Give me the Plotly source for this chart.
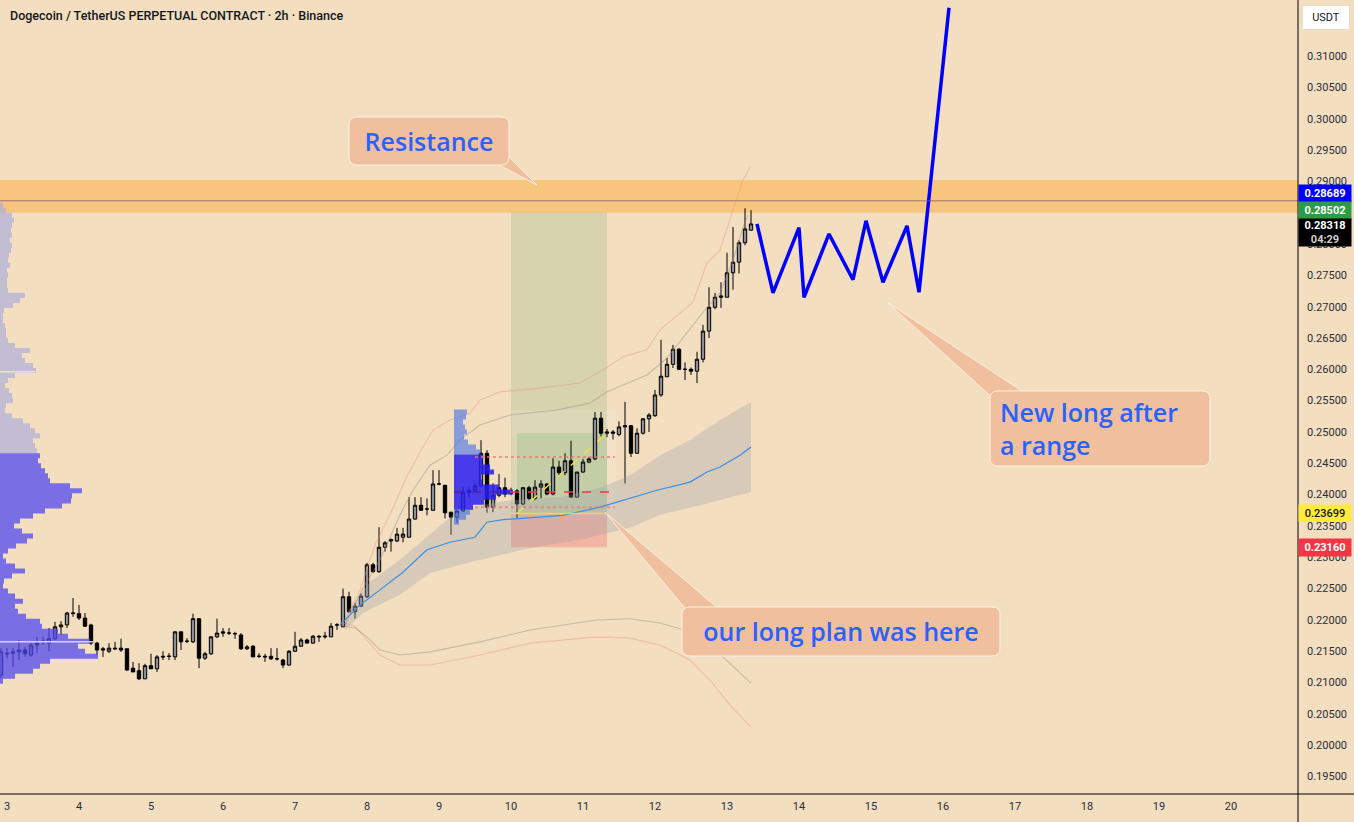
import pandas as pd
import plotly.graph_objects as go

BG = "#f3dec0"

# ---------------- candles (2h) ----------------
T_FIRST = "2025-09-02 22:00"
OPEN = [0.2112,0.2147,0.2147,0.2149,0.2152,0.2144,0.2160,0.2165,0.2163,0.2170,
        0.2189,0.2192,0.2210,0.2210,0.2203,0.2192,0.2163,0.2154,0.2150,0.2155,
        0.2155,0.2154,0.2123,0.2119,0.2106,0.2127,0.2122,0.2142,0.2142,0.2141,
        0.2181,0.2166,0.2165,0.2202,0.2139,0.2146,0.2173,0.2181,0.2179,0.2178,
        0.2176,0.2154,0.2158,0.2142,0.2142,0.2142,0.2138,0.2136,0.2128,0.2150,
        0.2158,0.2168,0.2163,0.2174,0.2173,0.2173,0.2192,0.2189,0.2237,0.2213,
        0.2222,0.2237,0.2288,0.2277,0.2316,0.2326,0.2326,0.2332,0.2332,0.2361,
        0.2383,0.2377,0.2375,0.2417,0.2415,0.2372,0.2364,0.2374,0.2403,0.2407,
        0.2414,0.2466,0.2380,0.2399,0.2411,0.2403,0.2406,0.2385,0.2411,0.2394,
        0.2412,0.2417,0.2401,0.2444,0.2435,0.2454,0.2396,0.2436,0.2452,0.2457,
        0.2522,0.2498,0.2500,0.2496,0.2508,0.2510,0.2466,0.2498,0.2521,0.2526,
        0.2559,0.2588,0.2608,0.2632,0.2600,0.2600,0.2597,0.2616,0.2661,0.2699,
        0.2715,0.2715,0.2754,0.2771,0.2802,0.2822]
HIGH = [0.2155,0.2155,0.2155,0.2168,0.2157,0.2163,0.2173,0.2173,0.2187,0.2197,
        0.2198,0.2213,0.2235,0.2224,0.2211,0.2194,0.2165,0.2157,0.2163,0.2165,
        0.2170,0.2154,0.2133,0.2131,0.2130,0.2146,0.2144,0.2150,0.2147,0.2182,
        0.2181,0.2171,0.2210,0.2202,0.2149,0.2174,0.2202,0.2187,0.2187,0.2181,
        0.2179,0.2160,0.2160,0.2147,0.2146,0.2155,0.2155,0.2138,0.2152,0.2181,
        0.2171,0.2170,0.2176,0.2176,0.2181,0.2195,0.2195,0.2250,0.2245,0.2227,
        0.2242,0.2291,0.2291,0.2348,0.2326,0.2330,0.2347,0.2347,0.2396,0.2396,
        0.2396,0.2394,0.2439,0.2439,0.2415,0.2372,0.2375,0.2412,0.2412,0.2418,
        0.2487,0.2471,0.2418,0.2433,0.2427,0.2411,0.2409,0.2412,0.2414,0.2423,
        0.2423,0.2418,0.2458,0.2454,0.2466,0.2486,0.2436,0.2457,0.2460,0.2532,
        0.2532,0.2505,0.2503,0.2517,0.2548,0.2511,0.2506,0.2522,0.2530,0.2567,
        0.2647,0.2618,0.2639,0.2634,0.2611,0.2603,0.2628,0.2671,0.2731,0.2722,
        0.2739,0.2786,0.2827,0.2806,0.2857,0.2854]
LOW = [0.2107,0.2139,0.2125,0.2136,0.2141,0.2141,0.2147,0.2160,0.2150,0.2168,
       0.2176,0.2187,0.2205,0.2200,0.2189,0.2160,0.2144,0.2141,0.2147,0.2152,
       0.2149,0.2119,0.2117,0.2104,0.2106,0.2122,0.2117,0.2136,0.2136,0.2136,
       0.2152,0.2163,0.2163,0.2123,0.2136,0.2144,0.2171,0.2173,0.2176,0.2170,
       0.2152,0.2152,0.2141,0.2139,0.2133,0.2136,0.2135,0.2123,0.2127,0.2149,
       0.2157,0.2163,0.2162,0.2165,0.2170,0.2173,0.2184,0.2189,0.2211,0.2202,
       0.2221,0.2235,0.2275,0.2275,0.2309,0.2309,0.2324,0.2324,0.2332,0.2360,
       0.2374,0.2367,0.2374,0.2415,0.2362,0.2336,0.2355,0.2372,0.2396,0.2404,
       0.2412,0.2371,0.2372,0.2396,0.2396,0.2399,0.2362,0.2383,0.2391,0.2391,
       0.2394,0.2399,0.2399,0.2431,0.2431,0.2396,0.2396,0.2435,0.2450,0.2455,
       0.2493,0.2492,0.2488,0.2493,0.2418,0.2460,0.2466,0.2496,0.2500,0.2524,
       0.2556,0.2588,0.2602,0.2599,0.2583,0.2591,0.2578,0.2611,0.2650,0.2696,
       0.2698,0.2715,0.2727,0.2753,0.2798,0.2821]
CLOSE = [0.2149,0.2146,0.2149,0.2152,0.2146,0.2160,0.2163,0.2166,0.2170,0.2189,
         0.2192,0.2211,0.2211,0.2203,0.2190,0.2163,0.2152,0.2152,0.2155,0.2154,
         0.2152,0.2120,0.2117,0.2106,0.2127,0.2122,0.2141,0.2141,0.2142,0.2181,
         0.2165,0.2166,0.2202,0.2139,0.2146,0.2173,0.2179,0.2179,0.2179,0.2178,
         0.2154,0.2157,0.2141,0.2142,0.2141,0.2138,0.2138,0.2128,0.2150,0.2158,
         0.2168,0.2163,0.2174,0.2173,0.2174,0.2190,0.2192,0.2237,0.2213,0.2222,
         0.2238,0.2288,0.2277,0.2316,0.2323,0.2328,0.2337,0.2337,0.2361,0.2383,
         0.2375,0.2377,0.2417,0.2417,0.2371,0.2364,0.2374,0.2403,0.2407,0.2414,
         0.2466,0.2380,0.2399,0.2411,0.2401,0.2403,0.2385,0.2411,0.2394,0.2412,
         0.2417,0.2401,0.2444,0.2435,0.2454,0.2396,0.2436,0.2452,0.2457,0.2522,
         0.2498,0.2500,0.2498,0.2508,0.2510,0.2466,0.2498,0.2521,0.2527,0.2559,
         0.2589,0.2608,0.2632,0.2600,0.2600,0.2597,0.2616,0.2661,0.2699,0.2715,
         0.2717,0.2754,0.2771,0.2802,0.2824,0.2832]

# ---------------- indicator lines ----------------
MID_T = ["2025-09-07 15:00","2025-09-07 21:40","2025-09-08 04:20","2025-09-08 11:40","2025-09-08 20:00",
         "2025-09-09 03:40","2025-09-09 12:00","2025-09-09 16:00","2025-09-09 21:20","2025-09-10 17:20",
         "2025-09-11 05:40","2025-09-11 15:40","2025-09-12 00:40","2025-09-12 11:40","2025-09-12 17:20",
         "2025-09-12 21:40","2025-09-13 04:20","2025-09-13 08:00"]
MID_P = [0.2192,0.2224,0.2248,0.2275,0.2312,0.2324,0.2332,0.2356,0.2360,0.2367,
         0.2380,0.2394,0.2407,0.2420,0.2436,0.2444,0.2463,0.2476]

BAND_UP_T = ["2025-09-07 16:40","2025-09-08 01:00","2025-09-08 11:00","2025-09-08 21:00","2025-09-09 04:40",
             "2025-09-09 13:40","2025-09-09 23:40","2025-09-10 16:20","2025-09-11 05:40","2025-09-11 15:40",
             "2025-09-12 01:40","2025-09-12 11:40","2025-09-12 21:40","2025-09-13 08:00"]
BAND_UP_P = [0.2208,0.2261,0.2296,0.2336,0.2368,0.2383,0.2391,0.2396,0.2411,0.2431,
             0.2463,0.2487,0.2519,0.2548]
BAND_LO_T = ["2025-09-07 16:40","2025-09-07 22:40","2025-09-08 11:00","2025-09-08 21:00","2025-09-09 07:00",
             "2025-09-09 17:00","2025-09-10 06:20","2025-09-10 23:00","2025-09-11 15:40","2025-09-12 01:40",
             "2025-09-12 15:00","2025-09-13 08:00"]
BAND_LO_P = [0.2184,0.2211,0.2240,0.2275,0.2288,0.2300,0.2315,0.2328,0.2347,0.2368,0.2383,0.2404]

SALMON_UP_T = ["2025-09-07 16:40","2025-09-07 21:40","2025-09-08 02:40","2025-09-08 07:40","2025-09-08 12:40",
               "2025-09-08 17:40","2025-09-08 22:00","2025-09-09 03:40","2025-09-09 10:20","2025-09-09 13:40",
               "2025-09-09 20:20","2025-09-10 09:40","2025-09-10 23:00","2025-09-11 08:00","2025-09-11 13:20",
               "2025-09-11 21:20","2025-09-12 01:40","2025-09-12 08:20","2025-09-12 12:40","2025-09-12 17:20",
               "2025-09-12 21:40","2025-09-13 02:00","2025-09-13 05:20","2025-09-13 07:40"]
SALMON_UP_P = [0.2197,0.2248,0.2320,0.2368,0.2423,0.2468,0.2503,0.2519,0.2530,0.2551,
               0.2564,0.2570,0.2578,0.2603,0.2620,0.2631,0.2663,0.2690,0.2707,0.2770,
               0.2790,0.2854,0.2902,0.2923]
GREY_UP_T = ["2025-09-07 16:40","2025-09-07 22:20","2025-09-08 04:20","2025-09-08 11:00","2025-09-08 15:20",
             "2025-09-08 21:00","2025-09-09 02:40","2025-09-09 07:00","2025-09-09 13:40","2025-09-09 23:40",
             "2025-09-10 15:20","2025-09-11 02:20","2025-09-11 08:00","2025-09-11 13:20","2025-09-11 21:20",
             "2025-09-12 04:00","2025-09-12 10:40","2025-09-12 17:20","2025-09-12 21:40","2025-09-13 02:00",
             "2025-09-13 05:20","2025-09-13 07:00"]
GREY_UP_P = [0.2192,0.2248,0.2296,0.2368,0.2407,0.2447,0.2463,0.2487,0.2511,0.2527,
             0.2535,0.2546,0.2564,0.2575,0.2591,0.2618,0.2658,0.2699,0.2722,0.2774,
             0.2827,0.2846]
GREY_LO_T = ["2025-09-07 15:00","2025-09-07 20:00","2025-09-08 00:00","2025-09-08 04:20","2025-09-08 11:00",
             "2025-09-08 21:00","2025-09-09 13:40","2025-09-10 06:20","2025-09-11 04:40","2025-09-11 15:40",
             "2025-09-12 01:40","2025-09-12 11:40","2025-09-12 18:20","2025-09-13 01:00","2025-09-13 08:00"]
GREY_LO_P = [0.2192,0.2187,0.2173,0.2152,0.2144,0.2149,0.2165,0.2184,0.2200,0.2202,
             0.2195,0.2181,0.2160,0.2131,0.2099]
SALMON_LO_T = ["2025-09-07 15:00","2025-09-07 20:00","2025-09-08 04:20","2025-09-08 11:00","2025-09-08 21:00",
               "2025-09-09 13:40","2025-09-10 06:20","2025-09-11 04:40","2025-09-11 15:40","2025-09-12 01:40",
               "2025-09-12 11:40","2025-09-12 18:20","2025-09-13 01:00","2025-09-13 08:00"]
SALMON_LO_P = [0.2197,0.2190,0.2144,0.2128,0.2128,0.2144,0.2163,0.2173,0.2171,0.2160,
               0.2136,0.2104,0.2064,0.2029]

# ---------------- volume profiles ----------------
VOL_MIN = 20  # minutes of chart width per volume unit
LP_BASE = "2025-09-02 21:40"
LP_TOP = 0.2862
LP_STEP = 0.0008
LP_OUT_VOL = [3,6,12,14,12,11,12,10,12,11,9,8,10,7,8,7,7,8,25,20,13,4,3,3,5,6,6,8,15,30,
              22,25,33,36,15,8,5,9,12,13,6,5,12,23,30,35,40,33,35,37]
LP_VA_VOL = [40,38,41,45,48,50,70,82,72,71,62,45,33,20,14,22,33,27,16,8,3,6,15,25,12,4,3,8,15,23,
             15,18,26,40,42,58,68,90,78,85,98,50,40,33,15,3]

FP_BASE = "2025-09-09 05:00"
FP_TOP = 0.2532
FP_STEP = 0.0008
FP_VOL = [13,12,9,11,13,10,14,22,26,29,28,36,40,27,28,45,59,42,30,19,16,12,5]
FP_VA = (9, 20)

# ---------------- drawings ----------------
RES_LOW, RES_HIGH = 0.2850, 0.2902
HLINE = 0.28689
POS_START, POS_END = "2025-09-10 00:00", "2025-09-11 08:00"
TARGET, ENTRY, STOP = 0.28502, 0.23699, 0.23160
POS2_START, POS2_TOP = "2025-09-10 02:00", 0.2498
LAST_PRICE = 0.28318

ZZ_T = ["2025-09-13 10:00","2025-09-13 15:20","2025-09-14 00:00","2025-09-14 01:40","2025-09-14 10:00",
        "2025-09-14 18:00","2025-09-14 22:20","2025-09-15 04:00","2025-09-15 12:00","2025-09-15 16:00",
        "2025-09-16 02:00"]
ZZ_P = [0.2832,0.2722,0.2826,0.2715,0.2816,0.2743,0.2837,0.2739,0.2829,0.2723,0.3177]

# callouts: text, anchor time, anchor price, box size (px), text alignment
CALLOUTS = [
    ("Resistance", "2025-09-08 20:40", 0.29644, 160, 48, "center"),
    ("New long after<br>a range", "2025-09-18 04:20", 0.25056, 220, 75, "left"),
    ("our long plan was here", "2025-09-14 14:00", 0.21816, 318, 49, "center"),
]
TAILS = [(["2025-09-09 19:20", "2025-09-09 22:40", "2025-09-10 08:40"], [0.2928, 0.2942, 0.2894]),
         (["2025-09-16 17:20", "2025-09-17 03:20", "2025-09-15 05:40"], [0.2551, 0.2562, 0.2706]),
         (["2025-09-12 11:00", "2025-09-12 22:20", "2025-09-11 07:20"], [0.2213, 0.2213, 0.2372])]

DAY_TICKS = ["2025-09-%02d" % d for d in range(3, 21)]
DAY_LABELS = ["3","4","5","6","7","8","9","10","11","12","13","14","15","16","17","18","19","20"]
Y_TICKS = [0.195,0.200,0.205,0.210,0.215,0.220,0.225,0.230,0.235,0.240,0.245,0.250,
           0.255,0.260,0.265,0.270,0.275,0.280,0.285,0.290,0.295,0.300,0.305,0.310]
Y_LABELS = ["0.19500","0.20000","0.20500","0.21000","0.21500","0.22000","0.22500","0.23000",
            "0.23500","0.24000","0.24500","0.25000","0.25500","0.26000","0.26500","0.27000",
            "0.27500","0.28000","0.28500","0.29000","0.29500","0.30000","0.30500","0.31000"]

X_RANGE = ["2025-09-02 21:40", "2025-09-20 22:20"]
Y_RANGE = [0.19222, 0.31894]

times = pd.date_range(T_FIRST, periods=len(OPEN), freq="2h")


def profile_poly(base, top, step, vols, start=0, stop=None):
    base = pd.Timestamp(base)
    stop = len(vols) if stop is None else stop
    xs, ys = [base], [top - start * step + step / 2]
    for i in range(start, stop):
        c = top - i * step
        xr = base + pd.Timedelta(minutes=vols[i] * VOL_MIN)
        xs += [xr, xr]
        ys += [c + step / 2, c - step / 2]
    xs.append(base)
    ys.append(top - (stop - 1) * step - step / 2)
    return xs, ys


def rounded_rect(w, h, r):
    a, b = w / 2, h / 2
    return (f"M {-a + r},{-b} L {a - r},{-b} Q {a},{-b} {a},{-b + r} L {a},{b - r} "
            f"Q {a},{b} {a - r},{b} L {-a + r},{b} Q {-a},{b} {-a},{b - r} "
            f"L {-a},{-b + r} Q {-a},{-b} {-a + r},{-b} Z")


fig = go.Figure()

# grey band
fig.add_trace(go.Scatter(x=BAND_UP_T + BAND_LO_T[::-1], y=BAND_UP_P + BAND_LO_P[::-1],
                         fill="toself", fillcolor="rgba(160,160,170,0.33)", line=dict(width=0),
                         mode="lines", hoverinfo="skip"))
for tx, py, col in [(SALMON_UP_T, SALMON_UP_P, "rgba(236,150,130,0.45)"),
                    (SALMON_LO_T, SALMON_LO_P, "rgba(236,150,130,0.45)"),
                    (GREY_UP_T, GREY_UP_P, "rgba(150,140,130,0.45)"),
                    (GREY_LO_T, GREY_LO_P, "rgba(150,140,130,0.45)")]:
    fig.add_trace(go.Scatter(x=tx, y=py, mode="lines", line=dict(color=col, width=1.1),
                             hoverinfo="skip"))
fig.add_trace(go.Scatter(x=MID_T, y=MID_P, mode="lines", line=dict(color="#3a8ee6", width=1.2),
                         hoverinfo="skip"))

# candles
fig.add_trace(go.Candlestick(x=times, open=OPEN, high=HIGH, low=LOW, close=CLOSE,
                             increasing=dict(fillcolor="#8c8e97", line=dict(color="#000000", width=1)),
                             decreasing=dict(fillcolor="#000000", line=dict(color="#000000", width=1)),
                             whiskerwidth=0, hoverinfo="skip"))

# left session volume profile
n_out = len(LP_OUT_VOL)
xs, ys = profile_poly(LP_BASE, LP_TOP, LP_STEP, LP_OUT_VOL)
fig.add_trace(go.Scatter(x=xs, y=ys, fill="toself", fillcolor="rgba(165,170,222,0.62)",
                         line=dict(width=0), mode="lines", hoverinfo="skip"))
xs, ys = profile_poly(LP_BASE, LP_TOP - n_out * LP_STEP, LP_STEP, LP_VA_VOL)
fig.add_trace(go.Scatter(x=xs, y=ys, fill="toself", fillcolor="rgba(80,70,240,0.74)",
                         line=dict(width=0), mode="lines", hoverinfo="skip"))

# fixed range profile
for a, b, col in [(0, FP_VA[0], "rgba(50,100,240,0.55)"),
                  (FP_VA[0], FP_VA[1], "rgba(40,30,240,0.85)"),
                  (FP_VA[1], len(FP_VOL), "rgba(50,100,240,0.55)")]:
    xs, ys = profile_poly(FP_BASE, FP_TOP, FP_STEP, FP_VOL, a, b)
    fig.add_trace(go.Scatter(x=xs, y=ys, fill="toself", fillcolor=col, line=dict(width=0),
                             mode="lines", hoverinfo="skip"))

# callout tails
for tx, py in TAILS:
    fig.add_trace(go.Scatter(x=tx + tx[:1], y=py + py[:1], fill="toself", fillcolor="#f0bf9d",
                             line=dict(color="rgba(255,245,235,0.8)", width=1), mode="lines",
                             hoverinfo="skip"))

# projection zigzag
fig.add_trace(go.Scatter(x=ZZ_T, y=ZZ_P, mode="lines", line=dict(color="#0000ff", width=3.5),
                         hoverinfo="skip"))

shapes = [
    dict(type="rect", xref="paper", x0=0, x1=1, yref="y", y0=RES_LOW, y1=RES_HIGH,
         fillcolor="rgba(255,152,0,0.35)", line=dict(width=0), layer="below"),
    dict(type="rect", xref="x", x0=POS_START, x1=POS_END, yref="y", y0=ENTRY, y1=TARGET,
         fillcolor="rgba(100,170,100,0.2)", line=dict(width=0), layer="below"),
    dict(type="rect", xref="x", x0=POS_START, x1=POS_END, yref="y", y0=STOP, y1=ENTRY,
         fillcolor="rgba(242,54,69,0.25)", line=dict(width=0), layer="below"),
    dict(type="rect", xref="x", x0="2025-09-10 00:20", x1="2025-09-11 11:00", yref="y", y0=ENTRY, y1=0.2535,
         fillcolor="rgba(255,255,255,0.12)", line=dict(width=0), layer="below"),
    dict(type="rect", xref="x", x0=POS2_START, x1=POS_END, yref="y", y0=ENTRY, y1=POS2_TOP,
         fillcolor="rgba(100,170,100,0.2)", line=dict(width=0), layer="below"),
    dict(type="line", xref="paper", x0=0, x1=1, yref="y", y0=HLINE, y1=HLINE,
         line=dict(color="rgba(120,85,110,0.75)", width=1)),
    dict(type="line", xref="x", x0=POS_START, x1=POS_END, yref="y", y0=ENTRY, y1=ENTRY,
         line=dict(color="#f2d94a", width=1.5)),
    dict(type="line", xref="x", x0=POS2_START, x1=POS_END, yref="y", y0=ENTRY, y1=POS2_TOP,
         line=dict(color="#f0e040", width=1.5, dash="dash")),
    dict(type="line", xref="x", x0="2025-09-09 12:00", x1="2025-09-11 10:40", yref="y", y0=0.2460, y1=0.2460,
         line=dict(color="rgba(235,120,110,0.7)", width=2, dash="dot")),
    dict(type="line", xref="x", x0="2025-09-09 12:00", x1="2025-09-11 10:40", yref="y", y0=0.2380, y1=0.2380,
         line=dict(color="rgba(235,120,110,0.7)", width=2, dash="dot")),
    dict(type="line", xref="x", x0="2025-09-09 23:40", x1="2025-09-11 10:40", yref="y", y0=0.2404, y1=0.2404,
         line=dict(color="#f23645", width=1.5, dash="dash")),
    dict(type="line", xref="x", x0=FP_BASE, x1="2025-09-09 23:40", yref="y", y0=0.2404, y1=0.2404,
         line=dict(color="rgba(90,30,140,0.9)", width=1.5, dash="dash")),
    dict(type="line", xref="x", x0=LP_BASE, x1="2025-09-04 04:40", yref="y", y0=0.2165, y1=0.2165,
         line=dict(color="rgba(225,225,240,0.9)", width=1.5)),
    dict(type="line", xref="x", x0=LP_BASE, x1="2025-09-03 09:20", yref="y", y0=0.2596, y1=0.2596,
         line=dict(color="rgba(240,230,215,0.9)", width=1.5)),
    # axis frame lines
    dict(type="line", xref="paper", x0=0, x1=1354 / 1298, yref="paper", y0=0, y1=0,
         line=dict(color="#000000", width=1)),
    dict(type="line", xref="paper", x0=1, x1=1, yref="paper", y0=-28 / 794, y1=1,
         line=dict(color="#000000", width=1)),
]

CALL_FONT = dict(family="Open Sans", size=25, color="#2962ff", weight=600)
annotations = [
    dict(text="Dogecoin / TetherUS PERPETUAL CONTRACT · 2h · Binance", xref="paper", yref="paper",
         x=8 / 1298, y=1 - 16 / 794, xanchor="left", yanchor="middle", showarrow=False,
         font=dict(family="Roboto", size=12.5, color="#131722", weight=500)),
]
for text, tx, py, w, h, al in CALLOUTS:
    shapes.append(dict(type="path", xref="x", yref="y", xsizemode="pixel", ysizemode="pixel",
                       xanchor=tx, yanchor=py, path=rounded_rect(w, h, 8),
                       fillcolor="#f0bf9d", line=dict(color="rgba(255,246,236,0.9)", width=1),
                       layer="above"))
    annotations.append(dict(text=text, x=tx, y=py, xref="x", yref="y", showarrow=False,
                            width=w - 20, align=al, font=CALL_FONT))

LBL_FONT = dict(family="Roboto", size=11, color="#ffffff", weight=700)
annotations += [
    dict(text="USDT", xref="paper", yref="paper", x=1325.5 / 1298, y=1 - 17 / 794, xanchor="center",
         yanchor="middle", showarrow=False, bgcolor="#ffffff", bordercolor="#eadccb", borderwidth=1,
         borderpad=2, width=42, height=19, font=dict(family="Roboto", size=11, color="#131722")),
    dict(text="0.28689", xref="paper", x=1, xanchor="left", yref="y", y=HLINE, yshift=7, showarrow=False,
         bgcolor="#0000ff", width=48, height=13, borderpad=2, font=LBL_FONT),
    dict(text="0.28502", xref="paper", x=1, xanchor="left", yref="y", y=TARGET, yshift=2, showarrow=False,
         bgcolor="#2e9b45", width=48, height=13, borderpad=2, font=LBL_FONT),
    dict(text="0.28318<br><span style='color:#cfcfcf'>04:29</span>", xref="paper", x=1, xanchor="left",
         yref="y", y=LAST_PRICE, yshift=-8, showarrow=False, bgcolor="#000000", width=48, height=23,
         borderpad=2, font=LBL_FONT),
    dict(text="0.23699", xref="paper", x=1, xanchor="left", yref="y", y=ENTRY, showarrow=False,
         bgcolor="#ffeb3b", width=48, height=12, borderpad=2,
         font=dict(family="Roboto", size=11, color="#131722", weight=500)),
    dict(text="0.23160", xref="paper", x=1, xanchor="left", yref="y", y=STOP, showarrow=False,
         bgcolor="#f23645", width=48, height=13, borderpad=2, font=LBL_FONT),
]

fig.update_layout(
    width=1354, height=822, margin=dict(l=0, r=56, t=0, b=28),
    paper_bgcolor=BG, plot_bgcolor=BG, showlegend=False, boxgap=0.2,
    shapes=shapes, annotations=annotations, hovermode=False,
    xaxis=dict(type="date", range=X_RANGE, showgrid=False, zeroline=False, showline=False,
               tickvals=DAY_TICKS, ticktext=DAY_LABELS, ticks="", ticklabelstandoff=4,
               tickfont=dict(family="Roboto", size=11, color="#2a2e39"),
               rangeslider=dict(visible=False), fixedrange=True),
    yaxis=dict(side="right", range=Y_RANGE, showgrid=False, zeroline=False, showline=False,
               tickvals=Y_TICKS, ticktext=Y_LABELS, ticks="", ticklabelstandoff=8,
               tickfont=dict(family="Roboto", size=11, color="#2a2e39"), fixedrange=True),
)

fig.write_html("out.html")
